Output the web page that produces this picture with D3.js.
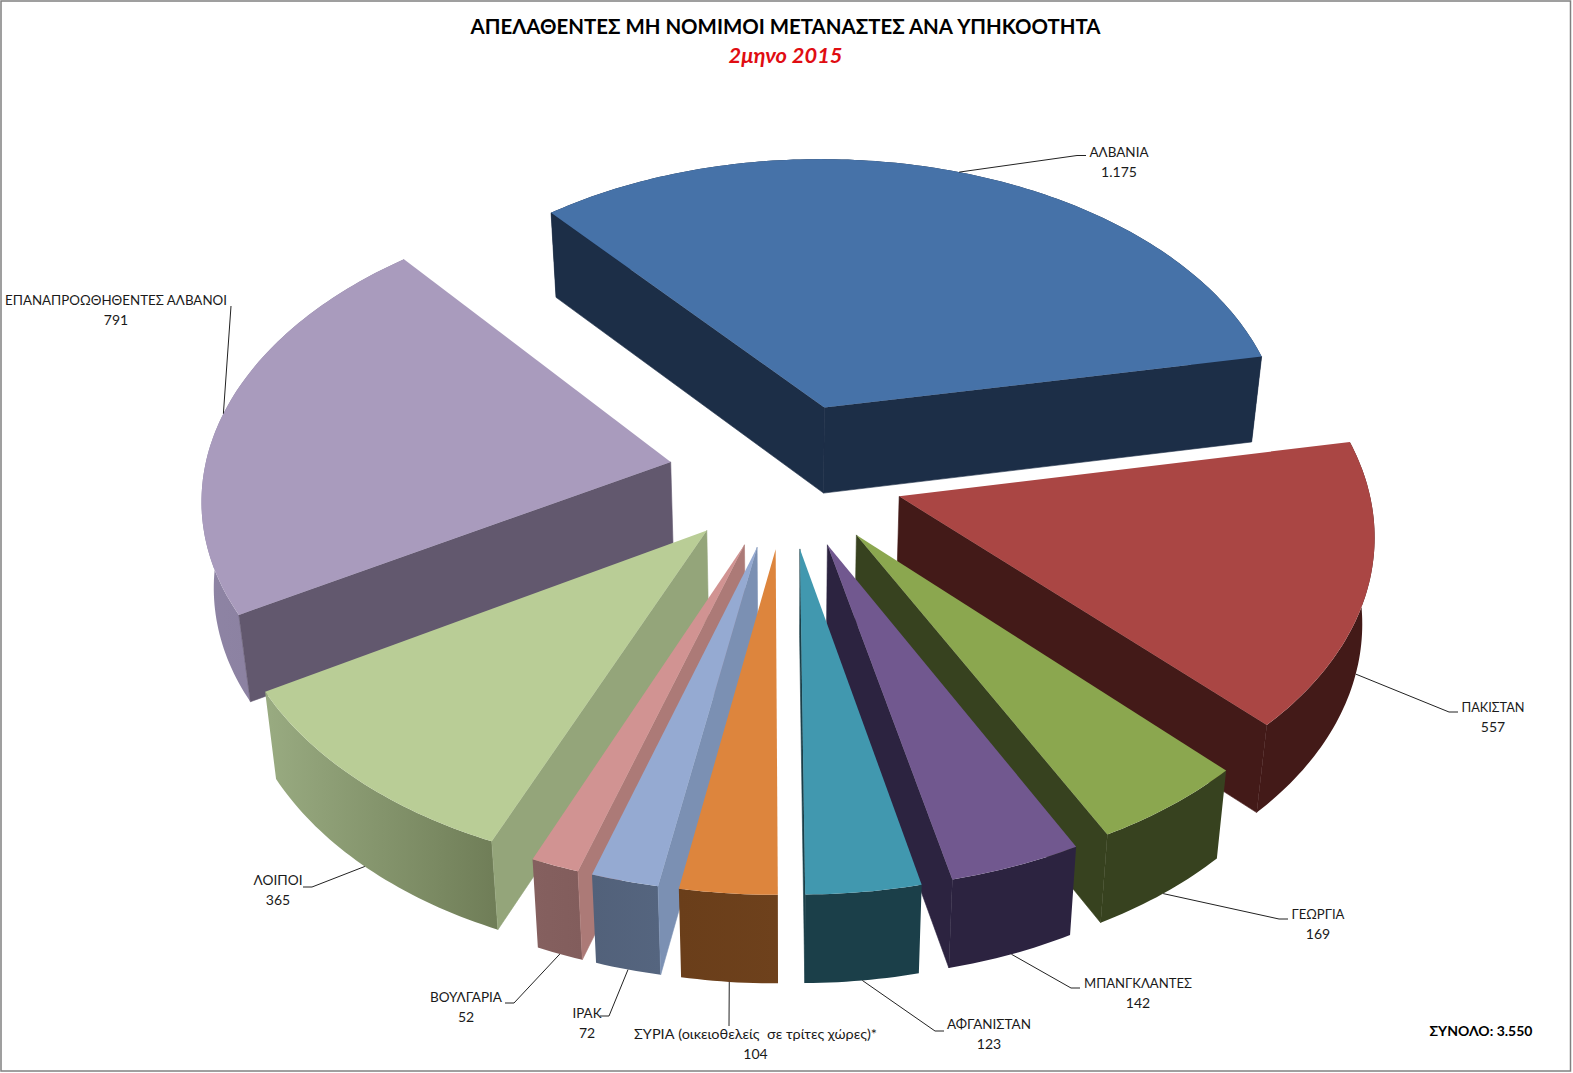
<!DOCTYPE html>
<html lang="el">
<head>
<meta charset="utf-8">
<title>Απελαθέντες μη νόμιμοι μετανάστες ανά υπηκοότητα</title>
<style>
  html, body { margin: 0; background: #fff; }
  svg { display: block; }
  text { font-family: Lato, "Open Sans", "Noto Sans", sans-serif; fill: #1a1a1a; }
</style>
</head>
<body>
<svg id="chart" width="1573" height="1073"></svg>
<script src="https://cdn.jsdelivr.net/npm/d3@7"></script>
<script>
// Deported irregular migrants by nationality, two months of 2015
const categories = ["ΑΛΒΑΝΙΑ", "ΠΑΚΙΣΤΑΝ", "ΓΕΩΡΓΙΑ", "ΜΠΑΝΓΚΛΑΝΤΕΣ", "ΑΦΓΑΝΙΣΤΑΝ",
  "ΣΥΡΙΑ (οικειοθελείς  σε τρίτες χώρες)*", "ΙΡΑΚ", "ΒΟΥΛΓΑΡΙΑ", "ΛΟΙΠΟΙ", "ΕΠΑΝΑΠΡΟΩΘΗΘΕΝΤΕΣ ΑΛΒΑΝΟΙ"];
const values = [1175, 557, 169, 142, 123, 104, 72, 52, 365, 791];
const valueLabels = ["1.175", "557", "169", "142", "123", "104", "72", "52", "365", "791"];

const titleText = "ΑΠΕΛΑΘΕΝΤΕΣ ΜΗ ΝΟΜΙΜΟΙ ΜΕΤΑΝΑΣΤΕΣ ΑΝΑ ΥΠΗΚΟΟΤΗΤΑ";
const subtitleText = "2μηνο 2015";
const totalText = "ΣΥΝΟΛΟ: 3.550";

// Face colours, one entry per slice
const topColors  = ["#4672a8", "#aa4644", "#8ba74f", "#71588f", "#4198af", "#dd853d", "#95aad2", "#d19392", "#b9cd96", "#a99bbd"];
const rimLeft    = ["#1c2e47", "#431a18", "#37421f", "#2c2340", "#1b3f49", "#6a3e1a", "#52617a", "#85605f", "#99ab81", "#8e84a4"];
const rimRight   = ["#1c2e47", "#431a18", "#37421f", "#2c2340", "#1b3f49", "#6e411c", "#55657f", "#825d5c", "#6f7d57", "#857a9a"];
const startWalls = ["#1c2e47", "#431a18", "#37421f", "#2c2340", "#1b3f49", "#6b3f1a", "#7b90b3", "#ac7a77", "#94a57a", "#62586e"];
const endWalls   = ["#1c2e47", "#431a18", "#37421f", "#2c2340", "#1b3f49", "#6b3f1a", "#52617a", "#85605f", "#6f7d57", "#62586e"];

// Label layout: centre x and first baseline, leader elbow, leader end, label width
const labelCentres = [[1119, 157], [1493, 712], [1318, 919], [1138, 988], [989, 1029], [755.5, 1039], [587, 1018], [466, 1002], [278, 885], [116, 305]];
const leaderElbows = [[1077, 155.5], [1449, 712], [1279, 919], [1071, 988], [935, 1031], [729, 1026], [609, 1016], [514, 1003], [312, 887], [231, 306]];
const leaderEnds   = [[1086, 155.5], [1458, 712], [1288, 919], [1080, 988], [944, 1031], [729, 1026], [600, 1016], [505, 1003], [303, 887], [231, 306]];
const labelWidths  = [59, 63, 53, 108, 84, 243, 29, 72, 49, 222];

// Camera used for the tilted, exploded pie
const cx = 786, cy = 474.4, radius = 467, explode = 117.6, tilt = 0.6202, perspective = 0.1104;
const startAngle = -0.6985;

const svg = d3.select("#chart");
const defs = svg.append("defs");

const project = (X, Y) => {
  const w = 1 + perspective * Y / radius;
  return [cx + X / w, cy - tilt * Y / w];
};
// The underside sits lower and slightly further from the eye than the top face
const lower = ([x, y]) => [cx + (x - cx) * 0.979, y + 84.5 + 0.006 * (y - 213)];

const arcs = d3.pie().sort(null).startAngle(startAngle).endAngle(startAngle + 2 * Math.PI)(values);

const slices = arcs.map((a, i) => {
  const mid = (a.startAngle + a.endAngle) / 2;
  const ox = explode * Math.sin(mid), oy = explode * Math.cos(mid);
  const at = t => project(ox + radius * Math.sin(t), oy + radius * Math.cos(t));
  const n = Math.max(6, Math.ceil((a.endAngle - a.startAngle) * 60));
  const rim = d3.range(n + 1).map(j => at(a.startAngle + (a.endAngle - a.startAngle) * j / n));
  return { i, mid, apex: project(ox, oy), at, rim };
});

const line = d3.line();

// Back slices are painted first so nearer ones cover them
const order = slices.slice().sort((a, b) => Math.cos(b.mid) - Math.cos(a.mid));

const pie = svg.append("g");
order.forEach(s => {
  const i = s.i, apexLow = lower(s.apex), rimLow = s.rim.map(lower);
  const first = s.rim[0], last = s.rim[s.rim.length - 1];
  const xs = d3.extent(s.rim.concat(rimLow), p => p[0]);

  const grad = defs.append("linearGradient")
    .attr("id", "rim" + i).attr("gradientUnits", "userSpaceOnUse")
    .attr("x1", xs[0]).attr("x2", xs[1]).attr("y1", 0).attr("y2", 0);
  grad.append("stop").attr("offset", 0).attr("stop-color", rimLeft[i]);
  grad.append("stop").attr("offset", 1).attr("stop-color", rimRight[i]);

  const g = pie.append("g");
  g.append("path")
    .attr("d", line(s.rim.concat(rimLow.slice().reverse())) + "Z")
    .attr("fill", `url(#rim${i})`);

  // Radial walls, keeping only those turned towards the viewer; the hairline stroke closes seams
  const startQuad = [s.apex, first, rimLow[0], apexLow];
  const endQuad = [s.apex, last, rimLow[rimLow.length - 1], apexLow];
  if (d3.polygonArea(startQuad) > 0) g.append("path").attr("d", line(startQuad) + "Z")
    .attr("fill", startWalls[i]).attr("stroke", startWalls[i]).attr("stroke-width", 0.6);
  if (d3.polygonArea(endQuad) < 0) g.append("path").attr("d", line(endQuad) + "Z")
    .attr("fill", endWalls[i]).attr("stroke", endWalls[i]).attr("stroke-width", 0.6);

  g.append("path")
    .attr("d", line([s.apex, ...s.rim]) + "Z")
    .attr("fill", topColors[i]);
});

// Leader lines run from the slice rim to its label
const leaders = svg.append("g").attr("fill", "none").attr("stroke", "#222").attr("stroke-width", 1);
slices.forEach(s => {
  const onRim = s.at(s.mid);
  const anchor = Math.cos(s.mid) > 0 ? onRim : lower(onRim);
  leaders.append("path").attr("d", line([anchor, leaderElbows[s.i], leaderEnds[s.i]]));
});

const labels = svg.append("g").attr("font-size", 14).attr("text-anchor", "middle");
categories.forEach((name, i) => {
  const [x, y] = labelCentres[i];
  labels.append("text").attr("x", x).attr("y", y)
    .attr("textLength", labelWidths[i]).attr("lengthAdjust", "spacingAndGlyphs")
    .style("white-space", "pre").text(name);
  labels.append("text").attr("x", x).attr("y", y + 20).text(valueLabels[i]);
});

svg.append("text").attr("x", 785.5).attr("y", 34).attr("text-anchor", "middle")
  .attr("font-size", 21).attr("font-weight", 700).style("fill", "#000")
  .attr("textLength", 630).attr("lengthAdjust", "spacingAndGlyphs").text(titleText);
svg.append("text").attr("x", 785.5).attr("y", 63).attr("text-anchor", "middle")
  .attr("font-size", 21).attr("font-weight", 700).attr("font-style", "italic").style("fill", "#e00d12")
  .attr("textLength", 114).attr("lengthAdjust", "spacingAndGlyphs").text(subtitleText);
svg.append("text").attr("x", 1481).attr("y", 1036).attr("text-anchor", "middle")
  .attr("font-size", 13.5).attr("font-weight", 700).style("fill", "#000")
  .attr("textLength", 103).attr("lengthAdjust", "spacingAndGlyphs").text(totalText);

// Outer frame
svg.append("rect").attr("x", 1).attr("y", 1).attr("width", 1569.5).attr("height", 1070)
  .attr("fill", "none").attr("stroke", "#808080").attr("stroke-width", 1.5);
</script>
</body>
</html>
